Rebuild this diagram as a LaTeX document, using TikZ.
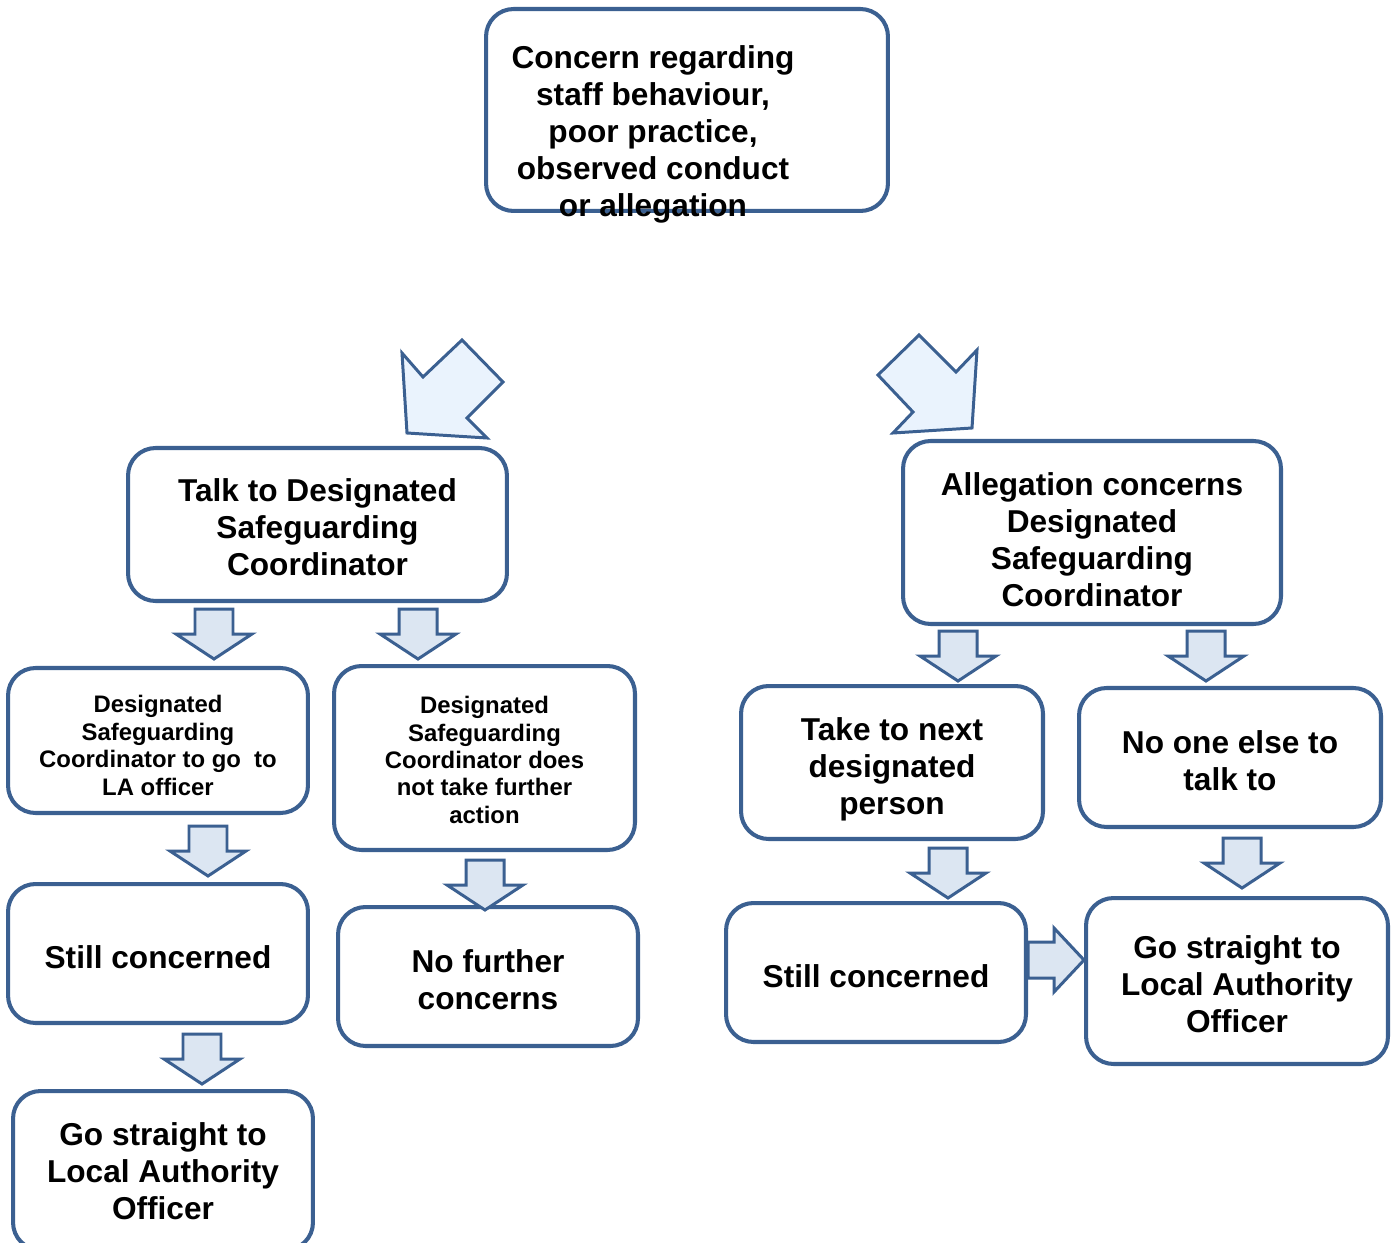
\documentclass[tikz,border=0pt]{standalone}
\usepackage{fontspec}
\setmainfont{Liberation Sans}
\usetikzlibrary{calc}
\definecolor{boxblue}{RGB}{59,96,145}
\definecolor{arrowfill}{RGB}{220,230,242}
\definecolor{diagfill}{RGB}{234,243,253}
\begin{document}
\begin{tikzpicture}[x=0.02cm,y=-0.02cm,
	flowbox/.style={draw=boxblue,line width=2.3pt,rounded corners=0.55cm,align=center,inner sep=0pt,font=\boxfontbig},
	blockarrow/.style={draw=boxblue,line width=1.7pt,fill=arrowfill,line join=miter},
	diagarrow/.style={draw=boxblue,line width=1.7pt,fill=diagfill,line join=miter},
	downarr/.pic={\draw[blockarrow] (-19,0) -- (19,0) -- (19,25) -- (38,25) -- (0,50) -- (-38,25) -- (-19,25) -- cycle;},
	rightarr/.pic={\draw[blockarrow] (0,-18) -- (26,-18) -- (26,-32) -- (56,0) -- (26,32) -- (26,18) -- (0,18) -- cycle;}]
			\newcommand{\boxfontbig}{\fontsize{18}{21}\selectfont\bfseries}
			\newcommand{\boxfontsmall}{\fontsize{13.6}{15.6}\selectfont\bfseries}
			% first line strut, pushes the text down a little
			\newcommand{\droptext}[1]{\rule{0pt}{#1}}
			%Page
			\useasboundingbox (0,0) rectangle (1395,1243);
			\fill[white] (0,0) rectangle (1395,1243);
			%Top box
			\coordinate (c0) at (687,110);
			\node [flowbox,minimum width=8.04cm,minimum height=4.04cm] (concern) at (c0) {};
			\node [align=center,inner sep=0pt,font=\boxfontbig] (concerntext) at (653,134.5) {Concern regarding\\staff behaviour,\\poor practice,\\observed conduct\\or allegation};
			%Diagonal arrows
			\draw [diagarrow] (402,353) -- (423,377) -- (462,340) -- (503,382) -- (467,418) -- (487,438) -- (407,433) -- cycle;
			\draw [diagarrow] (878,375) -- (919,335) -- (956,372) -- (977,350) -- (972,428) -- (893,433) -- (913,412) -- cycle;
			%Left column
			\coordinate (c1) at (317.5,524.5);
			\node [flowbox,minimum width=7.58cm,minimum height=3.06cm] (talk) at (c1) {\droptext{16.5pt}Talk to Designated\\Safeguarding\\Coordinator};
			\coordinate (c2) at (158,740.5);
			\node [flowbox,minimum width=6.0cm,minimum height=2.9cm,font=\boxfontsmall] (dscla) at (c2) {\droptext{15.5pt}Designated\\Safeguarding\\Coordinator to go~ to\\LA officer};
			\coordinate (c3) at (484.5,758);
			\node [flowbox,minimum width=6.02cm,minimum height=3.68cm,font=\boxfontsmall] (dscnot) at (c3) {\droptext{12.1pt}Designated\\Safeguarding\\Coordinator does\\not take further\\action};
			\coordinate (c4) at (158,953.5);
			\node [flowbox,minimum width=6.0cm,minimum height=2.78cm] (stillL) at (c4) {\droptext{17.6pt}Still concerned};
			\coordinate (c5) at (488,976.5);
			\node [flowbox,minimum width=6.0cm,minimum height=2.78cm] (nofurther) at (c5) {\droptext{16.5pt}No further\\concerns};
			\coordinate (c6) at (163,1170.5);
			\node [flowbox,minimum width=6.0cm,minimum height=3.18cm] (goL) at (c6) {\droptext{14.2pt}Go straight to\\Local Authority\\Officer};
			%Right column
			\coordinate (c7) at (1092,532.5);
			\node [flowbox,minimum width=7.56cm,minimum height=3.66cm] (allegation) at (c7) {\droptext{21pt}Allegation concerns\\Designated\\Safeguarding\\Coordinator};
			\coordinate (c8) at (892,762.5);
			\node [flowbox,minimum width=6.04cm,minimum height=3.06cm] (takenext) at (c8) {\droptext{21pt}Take to next\\designated\\person};
			\coordinate (c9) at (1230,757.5);
			\node [flowbox,minimum width=6.04cm,minimum height=2.78cm] (noone) at (c9) {\droptext{16.5pt}No one else to\\talk to};
			\coordinate (c10) at (876,972.5);
			\node [flowbox,minimum width=6.0cm,minimum height=2.78cm] (stillR) at (c10) {\droptext{17.6pt}Still concerned};
			\coordinate (c11) at (1237,981);
			\node [flowbox,minimum width=6.04cm,minimum height=3.32cm] (goR) at (c11) {\droptext{16.5pt}Go straight to\\Local Authority\\Officer};
			%Down arrows
			\pic at ($(talk.south)+(-103.5,6)$) {downarr};
			\pic at ($(talk.south)+(100.5,6)$) {downarr};
			\pic at ($(dscla.south)+(50,11)$) {downarr};
			\pic at ($(dscnot.south)+(0.5,8)$) {downarr};
			\pic at ($(stillL.south)+(44,9)$) {downarr};
			\pic at ($(allegation.south)+(-134,5)$) {downarr};
			\pic at ($(allegation.south)+(114,5)$) {downarr};
			\pic at ($(takenext.south)+(56,7)$) {downarr};
			\pic at ($(noone.south)+(12,9)$) {downarr};
			%Side arrow
			\pic at ($(stillR.east)+(0,-12.5)$) {rightarr};
\end{tikzpicture}
\end{document}
